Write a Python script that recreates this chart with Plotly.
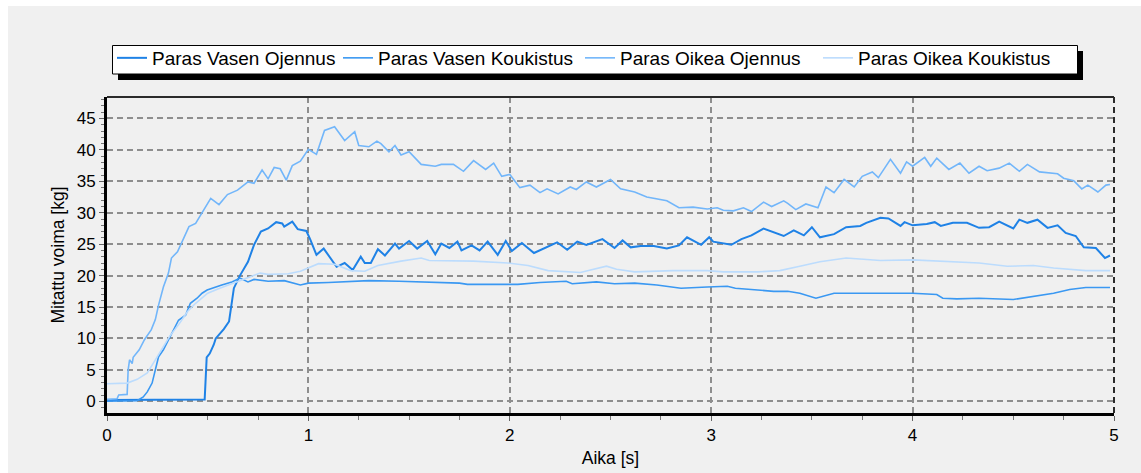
import plotly.graph_objects as go

# Time axis [s] and measured force [kg] for each best repetition
t_vasen_ojennus = [
    0, 0.47, 0.485, 0.495, 0.51, 0.53, 0.54, 0.58, 0.606, 0.63,
    0.66, 0.70, 0.73, 0.764, 0.80, 0.84, 0.87, 0.88, 0.92, 0.947,
    0.99, 1.01, 1.04, 1.076, 1.11, 1.14, 1.18, 1.22, 1.26, 1.28,
    1.31, 1.345, 1.38, 1.43, 1.45, 1.50, 1.54, 1.59, 1.63, 1.66,
    1.70, 1.74, 1.76, 1.81, 1.85, 1.89, 1.94, 1.98, 2.01, 2.06,
    2.12, 2.19, 2.235, 2.285, 2.335, 2.38, 2.46, 2.52, 2.56, 2.60,
    2.65, 2.715, 2.78, 2.84, 2.88, 2.95, 2.99, 3.01, 3.10, 3.15,
    3.20, 3.26, 3.31, 3.36, 3.41, 3.46, 3.50, 3.54, 3.61, 3.67,
    3.74, 3.77, 3.84, 3.88, 3.94, 3.96, 4.00, 4.07, 4.11, 4.14,
    4.20, 4.27, 4.33, 4.38, 4.43, 4.50, 4.53, 4.57, 4.62, 4.67,
    4.72, 4.76, 4.81, 4.85, 4.91, 4.955, 4.98,
]
f_vasen_ojennus = [
    0.2, 0.2, 0.3, 7.0, 7.6, 9.0, 10.0, 11.5, 12.7, 18.0,
    20.0, 22.2, 24.9, 27.0, 27.5, 28.5, 28.3, 27.8, 28.6, 27.4,
    27.1, 25.7, 23.3, 24.3, 22.8, 21.4, 22.0, 20.9, 23.0, 22.0,
    22.0, 24.2, 23.2, 25.1, 24.3, 25.5, 24.3, 25.5, 23.4, 25.1,
    24.4, 25.4, 24.0, 24.8, 24.0, 25.4, 23.3, 25.5, 23.9, 25.2,
    23.6, 24.7, 25.3, 24.1, 25.4, 24.9, 25.8, 24.4, 25.6, 24.5,
    24.7, 24.7, 24.3, 24.8, 26.1, 24.9, 26.1, 25.4, 24.9, 25.8,
    26.4, 27.5, 26.9, 26.3, 27.2, 26.4, 27.7, 26.1, 26.6, 27.7,
    27.9, 28.4, 29.2, 29.1, 27.9, 28.5, 28.0, 28.2, 28.5, 27.9,
    28.4, 28.4, 27.6, 27.7, 28.6, 27.5, 28.9, 28.4, 28.9, 27.6,
    28.0, 26.8, 26.3, 24.5, 24.4, 22.8, 23.2,
]

t_vasen_koukistus = [
    0, 0.15, 0.18, 0.20, 0.224, 0.24, 0.256, 0.28, 0.314, 0.355,
    0.39, 0.414, 0.447, 0.472, 0.497, 0.53, 0.57, 0.62, 0.66, 0.70,
    0.73, 0.80, 0.88, 0.96, 1.00, 1.10, 1.20, 1.30, 1.45, 1.55,
    1.66, 1.75, 1.79, 1.90, 2.04, 2.15, 2.28, 2.31, 2.43, 2.52,
    2.62, 2.73, 2.85, 2.98, 3.08, 3.12, 3.21, 3.31, 3.38, 3.44,
    3.52, 3.61, 3.84, 4.00, 4.12, 4.15, 4.22, 4.33, 4.50, 4.60,
    4.70, 4.78, 4.86, 4.98,
]
f_vasen_koukistus = [
    0.0, 0.1, 0.7, 1.5, 2.9, 5.2, 7.1, 8.2, 10.3, 12.9,
    13.7, 15.6, 16.4, 17.2, 17.7, 18.1, 18.5, 19.0, 19.6, 19.0,
    19.4, 19.1, 19.2, 18.5, 18.8, 18.9, 19.0, 19.2, 19.1, 19.0,
    19.0, 18.8, 18.6, 18.6, 18.6, 18.9, 19.1, 18.7, 19.0, 18.7,
    18.8, 18.5, 18.0, 18.2, 18.3, 18.0, 17.8, 17.5, 17.5, 17.2,
    16.4, 17.2, 17.2, 17.2, 17.0, 16.4, 16.3, 16.4, 16.2, 16.7,
    17.2, 17.8, 18.1, 18.1,
]

t_oikea_ojennus = [
    0, 0.05, 0.058, 0.100, 0.105, 0.112, 0.125, 0.13, 0.16, 0.186,
    0.22, 0.24, 0.256, 0.28, 0.305, 0.32, 0.35, 0.374, 0.407, 0.44,
    0.465, 0.515, 0.556, 0.598, 0.648, 0.70, 0.73, 0.77, 0.80, 0.83,
    0.86, 0.89, 0.92, 0.96, 1.00, 1.04, 1.08, 1.13, 1.18, 1.23,
    1.25, 1.30, 1.34, 1.36, 1.40, 1.43, 1.46, 1.50, 1.56, 1.63,
    1.66, 1.72, 1.77, 1.82, 1.88, 1.92, 1.96, 2.00, 2.05, 2.10,
    2.15, 2.185, 2.24, 2.30, 2.33, 2.38, 2.43, 2.50, 2.55, 2.62,
    2.68, 2.78, 2.84, 2.91, 2.98, 3.03, 3.06, 3.11, 3.16, 3.20,
    3.26, 3.30, 3.36, 3.38, 3.42, 3.47, 3.53, 3.57, 3.61, 3.66,
    3.71, 3.75, 3.80, 3.83, 3.89, 3.94, 3.97, 4.00, 4.06, 4.09,
    4.12, 4.18, 4.235, 4.28, 4.33, 4.37, 4.43, 4.48, 4.53, 4.57,
    4.63, 4.72, 4.75, 4.80, 4.84, 4.87, 4.92, 4.96, 4.98,
]
f_oikea_ojennus = [
    0.3, 0.4, 1.0, 1.1, 5.0, 6.6, 6.0, 7.0, 8.2, 9.8,
    11.4, 13.0, 15.3, 18.2, 20.4, 22.8, 23.8, 25.4, 27.8, 28.3,
    29.6, 32.3, 31.3, 32.9, 33.6, 34.9, 34.7, 36.8, 35.4, 37.2,
    37.0, 35.2, 37.5, 38.2, 40.1, 39.3, 43.1, 43.7, 41.5, 42.9,
    40.7, 40.5, 41.4, 41.0, 39.7, 40.7, 39.2, 39.7, 37.7, 37.4,
    37.7, 37.7, 36.6, 38.3, 36.9, 37.9, 35.8, 36.1, 34.0, 34.4,
    33.2, 33.8, 33.0, 34.1, 33.7, 34.9, 34.1, 35.3, 33.8, 33.3,
    32.5, 31.9, 30.8, 30.9, 30.6, 30.8, 30.4, 30.3, 30.8, 30.2,
    31.7, 31.0, 31.9, 31.5, 30.5, 31.4, 30.8, 34.1, 33.2, 35.3,
    34.1, 35.8, 36.5, 35.6, 38.5, 36.3, 38.1, 37.4, 38.8, 37.4,
    38.7, 36.9, 37.9, 36.3, 37.4, 36.7, 37.1, 37.9, 36.6, 37.7,
    36.5, 36.2, 35.5, 35.1, 33.8, 34.4, 33.3, 34.4, 34.5,
]

t_oikea_koukistus = [
    0, 0.10, 0.15, 0.20, 0.24, 0.27, 0.31, 0.36, 0.40, 0.44,
    0.50, 0.56, 0.63, 0.70, 0.76, 0.80, 0.90, 0.96, 1.05, 1.13,
    1.21, 1.28, 1.345, 1.46, 1.56, 1.60, 1.71, 1.82, 1.99, 2.09,
    2.19, 2.35, 2.48, 2.53, 2.62, 2.81, 2.98, 3.06, 3.23, 3.34,
    3.44, 3.54, 3.67, 3.84, 4.00, 4.17, 4.33, 4.47, 4.60, 4.70,
    4.86, 4.98,
]
f_oikea_koukistus = [
    2.8, 2.9, 3.5, 4.5, 6.6, 8.2, 10.3, 12.4, 14.3, 15.6,
    17.2, 18.0, 18.8, 19.6, 20.4, 20.2, 20.3, 20.7, 21.9, 21.8,
    20.8, 20.7, 21.6, 22.3, 22.8, 22.4, 22.4, 22.3, 22.0, 21.6,
    20.8, 20.5, 21.5, 21.0, 20.6, 20.8, 20.8, 20.6, 20.6, 20.8,
    21.5, 22.2, 22.8, 22.4, 22.5, 22.3, 22.0, 21.5, 21.6, 21.2,
    20.8, 20.8,
]

series_names = [
    "Paras Vasen Ojennus",
    "Paras Vasen Koukistus",
    "Paras Oikea Ojennus",
    "Paras Oikea Koukistus",
]
series_colors = ["#1f82e6", "#3a98f2", "#72b6fa", "#bcdcfd"]
series_widths = [2.0, 1.6, 1.6, 1.6]
legend_text_widths = [181, 197, 193, 200]

x_tick_values = [0, 1, 2, 3, 4, 5]
y_tick_values = [0, 5, 10, 15, 20, 25, 30, 35, 40, 45]

W, H = 1141, 473
PLOT_L, PLOT_R, PLOT_T, PLOT_B = 107, 1114, 97, 413
FONT = "Liberation Sans, Arial, sans-serif"


def px_x(px):
    return (px - PLOT_L) / (PLOT_R - PLOT_L)


def px_y(py):
    return (PLOT_B - py) / (PLOT_B - PLOT_T)


fig = go.Figure()
series = [
    (t_vasen_ojennus, f_vasen_ojennus),
    (t_vasen_koukistus, f_vasen_koukistus),
    (t_oikea_ojennus, f_oikea_ojennus),
    (t_oikea_koukistus, f_oikea_koukistus),
]
for (t, f), name, color, width, lw in zip(series, series_names, series_colors,
                                          series_widths, legend_text_widths):
    fig.add_trace(go.Scatter(
        x=t, y=f, mode="lines", name=name,
        line=dict(color=color, width=width),
        legendwidth=lw,
    ))

grid = dict(showgrid=True, gridcolor="#8e8e8e", gridwidth=2, griddash="6px,4px")
shapes = [
    # white margin strips around the grey panel
    dict(type="rect", xref="paper", yref="paper", x0=px_x(0), x1=px_x(8),
         y0=px_y(H), y1=px_y(0), fillcolor="white", line=dict(width=0), layer="below"),
    dict(type="rect", xref="paper", yref="paper", x0=px_x(0), x1=px_x(W),
         y0=px_y(6), y1=px_y(0), fillcolor="white", line=dict(width=0), layer="below"),
    # legend frame with its drop shadow
    dict(type="rect", xref="paper", yref="paper", x0=px_x(118), x1=px_x(1083),
         y0=px_y(80), y1=px_y(51), fillcolor="black", line=dict(width=0), layer="below"),
    dict(type="rect", xref="paper", yref="paper", x0=px_x(112.5), x1=px_x(1077.5),
         y0=px_y(74), y1=px_y(45.5), fillcolor="white",
         line=dict(color="black", width=1), layer="below"),
    # top frame line
    dict(type="line", xref="paper", yref="paper", x0=0, x1=1, y0=1, y1=1,
         line=dict(color="#2b2b2b", width=2)),
    # right frame line (dashed)
    dict(type="line", xref="paper", yref="paper", x0=1, x1=1, y0=0, y1=1,
         line=dict(color="#2b2b2b", width=2, dash="6px,4px")),
]

fig.update_layout(
    width=W, height=H,
    margin=dict(l=PLOT_L, r=W - PLOT_R, t=PLOT_T, b=H - PLOT_B, autoexpand=False),
    paper_bgcolor="#f0f0f0",
    plot_bgcolor="#f0f0f0",
    font=dict(family=FONT, size=17, color="black"),
    showlegend=True,
    legend=dict(
        orientation="h",
        xref="container", yref="container",
        x=112 / W, y=1 - 39 / H, xanchor="left", yanchor="top",
        bgcolor="rgba(0,0,0,0)", borderwidth=0,
        font=dict(family=FONT, size=19, color="black"),
        itemclick=False, itemdoubleclick=False,
    ),
    shapes=shapes,
    xaxis=dict(
        range=[0, 5], tickvals=x_tick_values,
        ticks="outside", ticklen=5, tickwidth=1, tickcolor="#666666",
        minor=dict(dtick=0.25, ticks="outside", ticklen=4, tickcolor="#777777", showgrid=False),
        showline=True, linecolor="black", linewidth=3,
        zeroline=False, tickfont=dict(size=17),
        title=dict(text="Aika [s]", font=dict(size=17.5), standoff=8),
        **grid,
    ),
    yaxis=dict(
        range=[-1.86, 48.42], tickvals=y_tick_values,
        ticks="outside", ticklen=5, tickwidth=1, tickcolor="#666666",
        minor=dict(tick0=0, dtick=1, ticks="outside", ticklen=3, tickcolor="#777777", showgrid=False),
        showline=True, linecolor="black", linewidth=3,
        zeroline=False, tickfont=dict(size=17),
        title=dict(text="Mitattu voima [kg]", font=dict(size=17.5), standoff=8),
        **grid,
    ),
)

fig.write_html("out.html")
